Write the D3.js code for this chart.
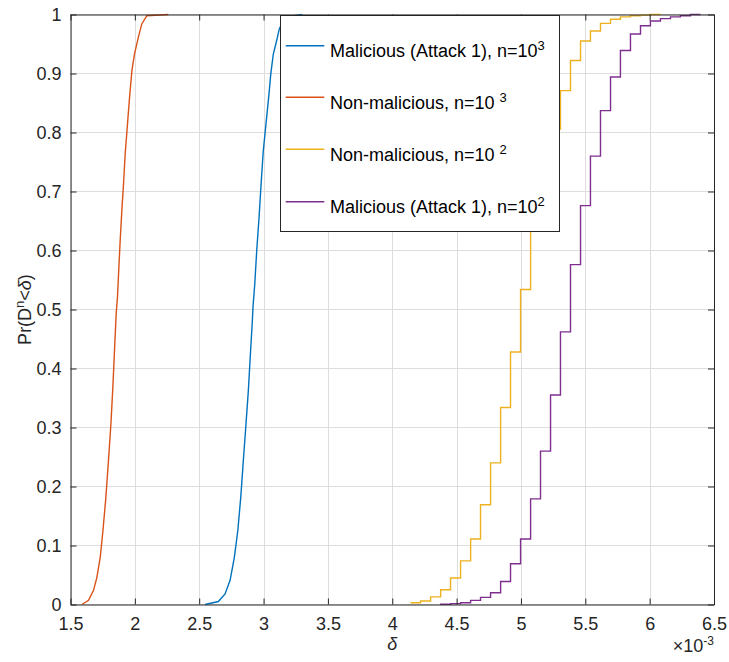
<!DOCTYPE html>
<html>
<head>
<meta charset="utf-8">
<script src="https://cdn.jsdelivr.net/npm/d3@7"></script>
<style>
html,body{margin:0;padding:0;background:#fff;}
svg{display:block;}
</style>
</head>
<body>
<svg id="chart" width="729" height="662"></svg>
<script>
// ---- data (delta in units of 1e-3) ----
const xTicks = [1.5, 2, 2.5, 3, 3.5, 4, 4.5, 5, 5.5, 6, 6.5];
const yTicks = [0, 0.1, 0.2, 0.3, 0.4, 0.5, 0.6, 0.7, 0.8, 0.9, 1];
const xTickLabels = ["1.5","2","2.5","3","3.5","4","4.5","5","5.5","6","6.5"];
const yTickLabels = ["0","0.1","0.2","0.3","0.4","0.5","0.6","0.7","0.8","0.9","1"];

// Malicious (Attack 1), n=10^3
const mal1000X = [2.546, 2.649, 2.701, 2.740, 2.773, 2.800, 2.823, 2.843, 2.862, 2.882, 2.898, 2.913, 2.918, 2.932, 2.947, 2.965, 2.981, 2.998, 3.019, 3.040, 3.056, 3.076, 3.102, 3.123, 3.170, 3.300];
const mal1000Y = [0, 0.005, 0.018, 0.041, 0.080, 0.125, 0.182, 0.244, 0.301, 0.363, 0.425, 0.481, 0.504, 0.544, 0.600, 0.656, 0.713, 0.769, 0.815, 0.860, 0.899, 0.933, 0.956, 0.976, 0.996, 1];

// Non-malicious, n=10^3
const non1000X = [1.589, 1.640, 1.679, 1.705, 1.731, 1.752, 1.775, 1.795, 1.814, 1.829, 1.842, 1.855, 1.865, 1.876, 1.886, 1.899, 1.912, 1.925, 1.943, 1.958, 1.977, 1.997, 2.028, 2.054, 2.093, 2.260];
const non1000Y = [0, 0.007, 0.024, 0.046, 0.080, 0.125, 0.182, 0.244, 0.306, 0.368, 0.431, 0.493, 0.521, 0.572, 0.617, 0.668, 0.713, 0.764, 0.815, 0.857, 0.905, 0.933, 0.962, 0.984, 0.998, 1];

// Non-malicious, n=10^2 (stairs)
const non100X = [4.142, 4.220, 4.298, 4.376, 4.453, 4.531, 4.609, 4.686, 4.764, 4.842, 4.919, 4.997, 5.075, 5.152, 5.230, 5.307, 5.385, 5.463, 5.540, 5.618, 5.696, 5.773, 5.851, 5.929, 6.006, 6.084];
const non100Y = [0.003, 0.006, 0.013, 0.025, 0.045, 0.074, 0.111, 0.169, 0.240, 0.334, 0.428, 0.534, 0.645, 0.730, 0.806, 0.871, 0.922, 0.955, 0.972, 0.985, 0.992, 0.996, 0.998, 0.999, 1, 1];

// Malicious (Attack 1), n=10^2 (stairs)
const mal100X = [4.371, 4.453, 4.531, 4.609, 4.686, 4.764, 4.842, 4.919, 4.997, 5.075, 5.152, 5.230, 5.307, 5.385, 5.463, 5.540, 5.618, 5.696, 5.773, 5.851, 5.929, 6.006, 6.084, 6.162, 6.239, 6.317, 6.395];
const mal100Y = [0.0005, 0.0015, 0.003, 0.007, 0.012, 0.020, 0.039, 0.069, 0.111, 0.179, 0.260, 0.355, 0.462, 0.576, 0.676, 0.760, 0.837, 0.894, 0.939, 0.967, 0.981, 0.989, 0.993, 0.996, 0.998, 1, 1];

const seriesNames = ["Malicious (Attack 1), n=10", "Non-malicious, n=10 ", "Non-malicious, n=10 ", "Malicious (Attack 1), n=10"];
const seriesExp = ["3", "3", "2", "2"];
const seriesColors = ["#0072BD", "#D95319", "#EDB120", "#7E2F8E"];

// ---- drawing ----
const FONT = "'Liberation Sans', Arial, Helvetica, sans-serif";
const AX = "#262626";
const svg = d3.select("#chart");
const x = d3.scaleLinear().domain([1.5, 6.5]).range([70.5, 714]);
const y = d3.scaleLinear().domain([0, 1]).range([604.5, 14.5]);
const [X0, X1] = x.range();
const [Y0, Y1] = y.range();

svg.append("rect").attr("x", 0).attr("y", 0).attr("width", 729).attr("height", 662).attr("fill", "#fff");
svg.append("rect").attr("x", X0).attr("y", Y1).attr("width", X1 - X0).attr("height", Y0 - Y1).attr("fill", "#fff");

// grid
const grid = svg.append("g").attr("stroke", "#dedede").attr("stroke-width", 1);
grid.selectAll("line.gx").data(xTicks).join("line")
  .attr("x1", d => Math.round(x(d)) + 0.5).attr("x2", d => Math.round(x(d)) + 0.5)
  .attr("y1", Y1).attr("y2", Y0);
grid.selectAll("line.gy").data(yTicks).join("line")
  .attr("y1", d => y(d)).attr("y2", d => y(d))
  .attr("x1", X0).attr("x2", X1);

// series
const lineLin = d3.line().x(d => x(d[0])).y(d => y(d[1]));
const lineStep = d3.line().x(d => x(d[0])).y(d => y(d[1])).curve(d3.curveStepAfter);
const seriesData = [
  {xs: mal1000X, ys: mal1000Y, gen: lineLin},
  {xs: non1000X, ys: non1000Y, gen: lineLin},
  {xs: non100X, ys: non100Y, gen: lineStep},
  {xs: mal100X, ys: mal100Y, gen: lineStep}
];
seriesData.forEach((s, i) => {
  const pts = s.xs.map((v, j) => [v, s.ys[j]]);
  svg.append("path").datum(pts)
    .attr("d", s.gen)
    .attr("fill", "none")
    .attr("stroke", seriesColors[i])
    .attr("stroke-width", 1.4)
    .attr("stroke-linejoin", "miter");
});

// axes
function styleAxis(g) {
  g.select(".domain").attr("stroke", AX).attr("stroke-width", 1);
  g.selectAll(".tick line").attr("stroke", AX).attr("stroke-width", 1);
  g.selectAll(".tick text").attr("fill", AX);
  g.attr("font-family", FONT).attr("font-size", 18);
}
const xAxis = svg.append("g").attr("transform", `translate(0,${Y0})`)
  .call(d3.axisBottom(x).tickValues(xTicks).tickFormat((d, i) => xTickLabels[i]).tickSize(-6).tickSizeOuter(0).tickPadding(13));
styleAxis(xAxis);
const xAxisTop = svg.append("g").attr("transform", `translate(0,${Y1})`)
  .call(d3.axisTop(x).tickValues(xTicks).tickFormat("").tickSize(-6).tickSizeOuter(0));
styleAxis(xAxisTop);
const yAxis = svg.append("g").attr("transform", `translate(${X0},0)`)
  .call(d3.axisLeft(y).tickValues(yTicks).tickFormat((d, i) => yTickLabels[i]).tickSize(-6).tickSizeOuter(0).tickPadding(9));
styleAxis(yAxis);
const yAxisRight = svg.append("g").attr("transform", `translate(${X1},0)`)
  .call(d3.axisRight(y).tickValues(yTicks).tickFormat("").tickSize(-6).tickSizeOuter(0));
styleAxis(yAxisRight);

// axis labels
svg.append("text").attr("x", (X0 + X1) / 2).attr("y", 650)
  .attr("text-anchor", "middle").attr("font-family", FONT).attr("font-size", 18)
  .attr("font-style", "italic").attr("fill", AX).text("δ");

const mult = svg.append("text").attr("x", 714).attr("y", 652)
  .attr("text-anchor", "end").attr("font-family", FONT).attr("font-size", 18).attr("fill", AX);
mult.append("tspan").text("×10");
mult.append("tspan").attr("font-size", 12).attr("dy", -7).text("-3");

const yl = svg.append("text").attr("transform", `translate(31,${(Y0 + Y1) / 2}) rotate(-90)`)
  .attr("text-anchor", "middle").attr("font-family", FONT).attr("font-size", 18).attr("fill", AX);
yl.append("tspan").text("Pr(D");
yl.append("tspan").attr("font-size", 13).attr("dy", -7).text("n");
yl.append("tspan").attr("dy", 7).text("<");
yl.append("tspan").attr("font-style", "italic").text("δ");
yl.append("tspan").text(")");

// legend
const lg = svg.append("g");
lg.append("rect").attr("x", 280.5).attr("y", 15.5).attr("width", 279).attr("height", 216)
  .attr("fill", "#fff").attr("stroke", AX).attr("stroke-width", 1);
const legY = [45.7, 97.3, 149.3, 201.7];
seriesNames.forEach((name, i) => {
  lg.append("line").attr("x1", 285.7).attr("x2", 324.3)
    .attr("y1", legY[i]).attr("y2", legY[i])
    .attr("stroke", seriesColors[i]).attr("stroke-width", 1.4);
  const t = lg.append("text").attr("x", 330).attr("y", legY[i] + 11.2)
    .attr("font-family", FONT).attr("font-size", 18).attr("fill", "#000")
    .attr("xml:space", "preserve").style("white-space", "pre");
  t.append("tspan").text(name);
  t.append("tspan").attr("font-size", 13).attr("dy", -7).text(seriesExp[i]);
});
</script>
</body>
</html>
